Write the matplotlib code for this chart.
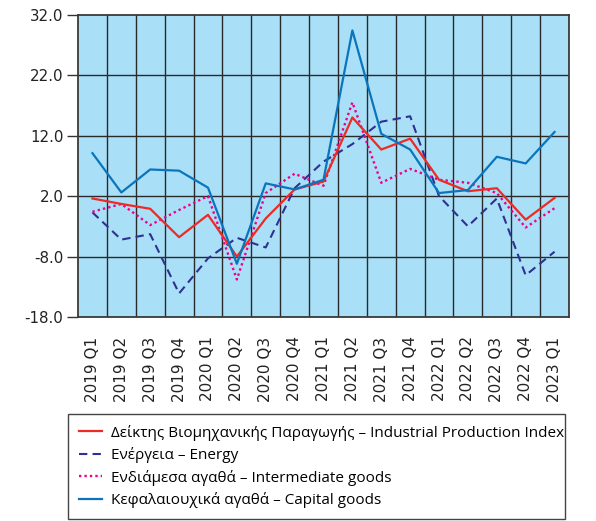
import matplotlib
matplotlib.use("Agg")
import matplotlib.pyplot as plt
import numpy as np

categories = ["2019 Q1", "2019 Q2", "2019 Q3", "2019 Q4", "2020 Q1", "2020 Q2", "2020 Q3",
              "2020 Q4", "2021 Q1", "2021 Q2", "2021 Q3", "2021 Q4", "2022 Q1", "2022 Q2",
              "2022 Q3", "2022 Q4", "2023 Q1"]
ipi = [1.6, 0.7, -0.1, -4.8, -1.1, -8.0, -1.7, 3.1, 4.4, 15.0, 9.7, 11.5, 4.7, 2.8, 3.3, -1.9, 1.7]
energy = [-0.7, -5.2, -4.3, -14.1, -8.3, -4.9, -6.5, 3.3, 7.7, 10.6, 14.3, 15.2, 2.0, -3.0, 1.6, -11.1, -7.2]
intermediate = [-0.6, 0.7, -2.8, -0.3, 2.0, -11.8, 2.5, 5.7, 3.7, 17.5, 4.2, 6.5, 4.7, 4.2, 2.5, -3.2, 0.0]
capital = [9.1, 2.6, 6.4, 6.2, 3.4, -9.2, 4.1, 3.1, 4.7, 29.4, 12.3, 9.7, 2.5, 3.0, 8.5, 7.4, 12.6]
yticks = [-18.0, -8.0, 2.0, 12.0, 22.0, 32.0]
labels = ["Δείκτης Βιομηχανικής Παραγωγής – Industrial Production Index",
          "Ενέργεια – Energy",
          "Ενδιάμεσα αγαθά – Intermediate goods",
          "Κεφαλαιουχικά αγαθά – Capital goods"]

W, H = 596, 521
fig = plt.figure(figsize=(W/100, H/100), dpi=100)
ax = fig.add_axes([78/W, 1-317/H, (569-78)/W, (317-14.7)/H])
ax.set_facecolor("#aadff8")

x = np.arange(len(categories))
ax.plot(x, ipi, color="#ee2a24", lw=1.6, label=labels[0], zorder=5)
ax.plot(x, energy, color="#2e3192", lw=1.5, ls=(0, (4, 2.5)), label=labels[1], zorder=3)
ax.plot(x, intermediate, color="#ec008c", lw=1.7, ls=(0, (1, 1.3)), label=labels[2], zorder=4)
ax.plot(x, capital, color="#0a75bc", lw=1.6, label=labels[3], zorder=6)

ax.set_xlim(-0.5, len(categories)-0.5)
ax.set_ylim(yticks[0], yticks[-1])
ax.set_yticks(yticks)
ax.set_yticklabels([f"{v:.1f}" for v in yticks], fontsize=10.8, family="DejaVu Sans", color="#222222")
ax.set_xticks(x)
ax.set_xticklabels(categories, rotation=90, fontsize=11, family="DejaVu Sans", color="#222222")
ax.grid(False)
for v in np.arange(len(categories)+1)[1:-1] - 0.5:
    ax.axvline(v, color="#2a2a2a", lw=1.0, zorder=1)
for v in yticks[1:-1]:
    ax.axhline(v, color="#2a2a2a", lw=1.0, zorder=1)
ax.tick_params(axis="y", length=8, width=1, color="#333333", pad=2.5)
ax.tick_params(axis="x", which="both", length=0, pad=14)
for s in ax.spines.values():
    s.set_color("#3a3a3a")
    s.set_linewidth(1.3)

leg = fig.legend(loc="upper left",
                 bbox_to_anchor=(68/W, 1-518/H, (565-68)/W, (518-414)/H),
                 mode="expand", borderaxespad=0, frameon=True, fancybox=False, framealpha=1,
                 prop={"family": "Open Sans", "size": 11}, handlelength=1.55, handletextpad=0.55,
                 labelspacing=0.42, borderpad=0.7)
leg.get_frame().set_edgecolor("#444444")
leg.get_frame().set_linewidth(1.0)

fig.savefig("out.png", dpi=100)
